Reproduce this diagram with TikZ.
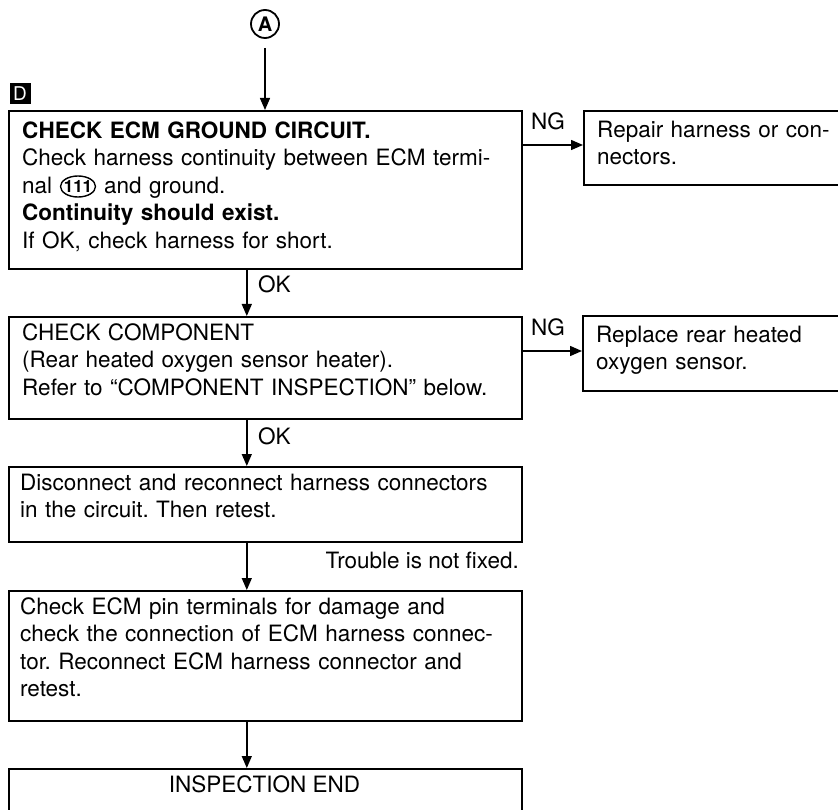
\documentclass[tikz,border=0pt]{standalone}
\usepackage{fontspec}
\setmainfont{TeX Gyre Heros}
\usetikzlibrary{arrows.meta,shapes.geometric}
\newcommand\fs{\rule{0pt}{20pt}}
\begin{document}
\frenchspacing
\begin{tikzpicture}[x=1pt,y=-1pt,
  box/.style={draw,line width=1.6pt,inner sep=0pt,anchor=north west},
  txt/.style={anchor=north west,inner sep=0pt,align=left,font=\fontsize{22.5}{27.5}\selectfont},
  lbl/.style={inner sep=0pt,anchor=base west,font=\fontsize{22.5}{27.5}\selectfont},
  arr/.style={line width=1.4pt,-{Triangle[length=12pt,width=10pt]}}]
\clip (0,0) rectangle (838,810);
% marker
\node[circle,draw,line width=1.8pt,minimum size=28pt,inner sep=0pt,font=\fontsize{20}{20}\selectfont\bfseries] (A) at (265,24) {A};
\node[fill=black,minimum width=21pt,minimum height=21pt,inner sep=0pt,text=white,font=\fontsize{19}{19}\selectfont] (D) at (20,94) {D};
% boxes
\node[box,minimum width=513pt,minimum height=158pt] (b1) at (8,110) {};
\node[box,minimum width=270pt,minimum height=74pt] (r1) at (583,110) {};
\node[box,minimum width=513pt,minimum height=102pt] (b2) at (8,316) {};
\node[box,minimum width=270pt,minimum height=75pt] (r2) at (582,315) {};
\node[box,minimum width=513pt,minimum height=75pt] (b3) at (8,466) {};
\node[box,minimum width=513pt,minimum height=130pt] (b4) at (8,590) {};
\node[box,minimum width=513pt,minimum height=80pt] (b5) at (8,768) {};
% texts
\node[txt,text width=495pt] (t1) at (22,118) {\fs\textbf{CHECK ECM GROUND CIRCUIT.}\\
Check harness continuity between ECM termi-\\
nal\hspace{52pt}and ground.\\
\textbf{Continuity should exist.}\\
If OK, check harness for short.};
\node[inner sep=0pt,font=\fontsize{17}{17}\selectfont\bfseries] (term) at (78,186.5) {111};
\draw[line width=1.4pt] (term.center) ellipse [x radius=17.5pt, y radius=10.5pt];
\node[txt,text width=250pt] (s1) at (597,117) {\fs Repair harness or con-\\nectors.};
\node[txt,text width=495pt] (t2) at (22,320) {\fs CHECK COMPONENT\\
(Rear heated oxygen sensor heater).\\
Refer to “COMPONENT INSPECTION” below.};
\node[txt,text width=250pt] (s2) at (596,322) {\fs Replace rear heated\\oxygen sensor.};
\node[txt,text width=495pt] (t3) at (20,470) {\fs Disconnect and reconnect harness connectors\\
in the circuit. Then retest.};
\node[txt,text width=495pt] (t4) at (20,594) {\fs Check ECM pin terminals for damage and\\
check the connection of ECM harness connec-\\
tor. Reconnect ECM harness connector and\\
retest.};
\node[inner sep=0pt,anchor=base,font=\fontsize{22.5}{27.5}\selectfont] (t5) at (264.5,792) {INSPECTION END};
% labels
\node[lbl] (ng1) at (531,130) {NG};
\node[lbl] (ng2) at (531,336) {NG};
\node[lbl] (ok1) at (258,293) {OK};
\node[lbl] (ok2) at (258,444) {OK};
\node[inner sep=0pt,anchor=base east,font=\fontsize{22.5}{27.5}\selectfont] (tr) at (519,568) {Trouble is not fixed.};
% connectors
\draw[arr] ([yshift=-9pt]A.south) -- (A.south |- b1.north);
\draw[arr] ([yshift=-35pt]b1.north east) -- ([yshift=-35pt]b1.north east -| r1.west);
\draw[arr] ([yshift=-35pt]b2.north east) -- ([yshift=-35pt]b2.north east -| r2.west);
\draw[arr] ([xshift=-18.5pt]b1.south) -- ([xshift=-18.5pt]b2.north);
\draw[arr] ([xshift=-18.5pt]b2.south) -- ([xshift=-18.5pt]b3.north);
\draw[arr] ([xshift=-18.5pt]b3.south) -- ([xshift=-18.5pt]b4.north);
\draw[arr] ([xshift=-18.5pt]b4.south) -- ([xshift=-18.5pt]b5.north);
\end{tikzpicture}
\end{document}
